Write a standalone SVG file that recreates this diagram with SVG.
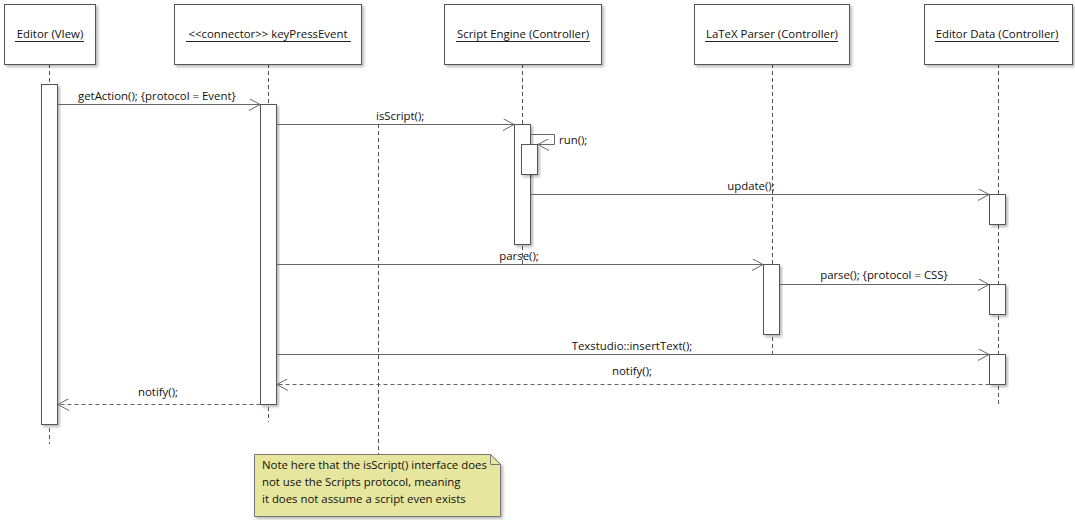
<svg xmlns="http://www.w3.org/2000/svg" width="1075" height="520" viewBox="0 0 1075 520">
<defs>
<filter id="sh" x="-20%" y="-20%" width="140%" height="140%">
<feDropShadow dx="2" dy="2" stdDeviation="1.5" flood-color="#000" flood-opacity="0.28"/>
</filter>
<marker id="open" viewBox="0 0 12 12" refX="11" refY="6" markerWidth="12" markerHeight="12" markerUnits="userSpaceOnUse" orient="auto">
<path d="M0,0 L11,6 L0,12" fill="none" stroke="#666" stroke-width="1"/>
</marker>
</defs>
<style>
text{font-family:"Open Sans","Noto Sans","DejaVu Sans",sans-serif;font-size:11.4px;fill:#111}
.box{fill:#fff;stroke:#555;stroke-width:1;filter:url(#sh)}
.act{fill:#fff;stroke:#555;stroke-width:1;filter:url(#sh)}
.life{stroke:#555;stroke-width:1;stroke-dasharray:4,3;fill:none}
.msg{stroke:#666;stroke-width:1;fill:none;marker-end:url(#open)}
.ret{stroke:#666;stroke-width:1;fill:none;stroke-dasharray:4,3;marker-end:url(#open)}
.ul{stroke:#222;stroke-width:1}
.note{fill:#e6e69e;stroke:#777;stroke-width:1;filter:url(#sh)}
</style>
<rect width="1075" height="520" fill="#fff"/>

<g id="lifelines">
<line class="life" x1="49.5" y1="64" x2="49.5" y2="444"/>
<line class="life" x1="268.5" y1="64" x2="268.5" y2="422"/>
<line class="life" x1="522.5" y1="64" x2="522.5" y2="264"/>
<line class="life" x1="772.5" y1="64" x2="772.5" y2="354"/>
<line class="life" x1="998.5" y1="64" x2="998.5" y2="404"/>
</g>

<g id="editor-view">
<rect class="box" x="4.5" y="4.5" width="91" height="60"/>
<text x="50" y="38" text-anchor="middle">Editor (VIew)</text>
<line class="ul" x1="15" y1="41.5" x2="84" y2="41.5"/>
<rect class="act" x="41.5" y="84.5" width="16" height="340"/>
</g>

<g id="keypress">
<rect class="box" x="174.5" y="4.5" width="187" height="60"/>
<text x="268" y="38" text-anchor="middle">&lt;&lt;connector&gt;&gt; keyPressEvent</text>
<line class="ul" x1="186" y1="41.5" x2="351" y2="41.5"/>
<rect class="act" x="260.5" y="104.5" width="16" height="300"/>
</g>

<g id="script-engine">
<rect class="box" x="444.5" y="4.5" width="157" height="60"/>
<text x="523" y="38" text-anchor="middle">Script Engine (Controller)</text>
<line class="ul" x1="456" y1="41.5" x2="590" y2="41.5"/>
<rect class="act" x="514.5" y="124.5" width="16" height="120"/>
<rect class="act" x="521.5" y="144.5" width="16" height="30"/>
</g>

<g id="latex-parser">
<rect class="box" x="694.5" y="4.5" width="155" height="60"/>
<text x="772" y="38" text-anchor="middle">LaTeX Parser (Controller)</text>
<line class="ul" x1="705" y1="41.5" x2="838" y2="41.5"/>
<rect class="act" x="763.5" y="264.5" width="16" height="70"/>
</g>

<g id="editor-data">
<rect class="box" x="924.5" y="4.5" width="148" height="60"/>
<text x="997" y="38" text-anchor="middle">Editor Data (Controller)</text>
<line class="ul" x1="935" y1="41.5" x2="1059" y2="41.5"/>
<rect class="act" x="989.5" y="194.5" width="16" height="30"/>
<rect class="act" x="989.5" y="284.5" width="16" height="30"/>
<rect class="act" x="989.5" y="354.5" width="16" height="30"/>
</g>

<g id="connectors">
<line class="msg" x1="57.5" y1="104.5" x2="260" y2="104.5"/>
<text x="78" y="100">getAction(); {protocol = Event}</text>
<line class="msg" x1="276.5" y1="124.5" x2="514" y2="124.5"/>
<text x="376" y="120">isScript();</text>
<path class="msg" d="M530.5,134.5 H554.5 V144.5 H538"/>
<text x="559" y="144">run();</text>
<line class="msg" x1="530.5" y1="194.5" x2="989" y2="194.5"/>
<text x="751" y="190" text-anchor="middle">update();</text>
<line class="msg" x1="276.5" y1="264.5" x2="763" y2="264.5"/>
<text x="519" y="260" text-anchor="middle">parse();</text>
<line class="msg" x1="779.5" y1="284.5" x2="989" y2="284.5"/>
<text x="884" y="279" text-anchor="middle">parse(); {protocol = CSS}</text>
<line class="msg" x1="276.5" y1="354.5" x2="989" y2="354.5"/>
<text x="632" y="350" text-anchor="middle">Texstudio::insertText();</text>
<line class="ret" x1="989.5" y1="384.5" x2="277" y2="384.5"/>
<text x="632" y="375" text-anchor="middle">notify();</text>
<line class="ret" x1="260.5" y1="404.5" x2="58" y2="404.5"/>
<text x="158" y="396" text-anchor="middle">notify();</text>
<line class="life" x1="378.5" y1="124" x2="378.5" y2="454"/>
</g>

<g id="note">
<path class="note" d="M254.5,454.5 H490.5 L500.5,464.5 V516.5 H254.5 Z"/>
<path d="M490.5,454.5 V464.5 H500.5" fill="none" stroke="#777"/>
<text x="262" y="469">Note here that the isScript() interface does</text>
<text x="262" y="486">not use the Scripts protocol, meaning</text>
<text x="262" y="503">it does not assume a script even exists</text>
</g>
</svg>
